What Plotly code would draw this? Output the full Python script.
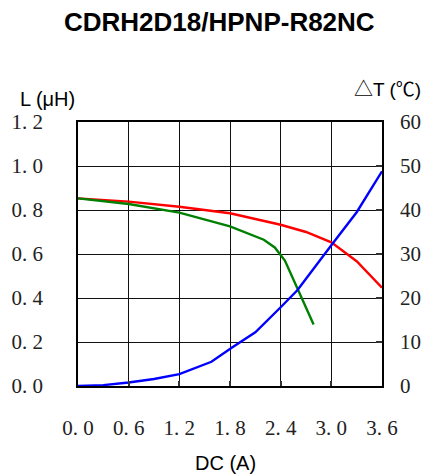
import plotly.graph_objects as go

# ---- tick labels ----
x_ticks = [0.0, 0.6, 1.2, 1.8, 2.4, 3.0, 3.6]
x_tick_labels = ["0. 0", "0. 6", "1. 2", "1. 8", "2. 4", "3. 0", "3. 6"]
l_ticks = [0.0, 0.2, 0.4, 0.6, 0.8, 1.0, 1.2]
l_tick_labels = ["0. 0", "0. 2", "0. 4", "0. 6", "0. 8", "1. 0", "1. 2"]
t_ticks = [0, 10, 20, 30, 40, 50, 60]
t_tick_labels = ["0", "10", "20", "30", "40", "50", "60"]

# ---- series ----
red_dc = [0.0, 0.6, 1.2, 1.8, 2.4, 2.7, 3.0, 3.3, 3.6]
red_l = [0.853, 0.838, 0.815, 0.785, 0.733, 0.700, 0.653, 0.567, 0.447]

green_dc = [0.0, 0.6, 1.2, 1.8, 2.2, 2.33, 2.45, 2.6, 2.79]
green_l = [0.853, 0.827, 0.788, 0.726, 0.665, 0.630, 0.570, 0.440, 0.280]

blue_dc = [0.0, 0.3, 0.6, 0.9, 1.2, 1.58, 1.82, 2.1, 2.4, 2.6, 3.0, 3.3, 3.6]
blue_t = [0.0, 0.2, 0.8, 1.6, 2.7, 5.5, 8.7, 12.2, 17.9, 21.8, 32.0, 39.5, 48.8]

title_text = "CDRH2D18/HPNP-R82NC"
left_title = "L (μH)"
right_title = "△T (℃)"
x_title = "DC (A)"

W, H = 433, 475
ML, MR, MT, MB = 76, 45, 122, 89
PW = W - ML - MR
PH = H - MT - MB

def px_x(px):
    return (px - ML) / PW

def px_y(py):
    return (H - MB - py) / PH

fig = go.Figure()
fig.add_trace(go.Scatter(x=red_dc, y=red_l, mode="lines",
                         line=dict(color="#ff0000", width=2.4), yaxis="y"))
fig.add_trace(go.Scatter(x=green_dc, y=green_l, mode="lines",
                         line=dict(color="#008000", width=2.4), yaxis="y"))
fig.add_trace(go.Scatter(x=blue_dc, y=blue_t, mode="lines",
                         line=dict(color="#0000ff", width=2.4), yaxis="y2"))

tick_font = dict(family="Liberation Serif", size=21, color="#222")

fig.update_layout(
    width=W, height=H,
    margin=dict(l=ML, r=MR, t=MT, b=MB, pad=0),
    paper_bgcolor="white", plot_bgcolor="white",
    showlegend=False,
    xaxis=dict(range=[0, 3.6], tickvals=x_ticks, ticktext=x_tick_labels,
               showgrid=True, gridcolor="#111", gridwidth=1,
               showline=True, linecolor="#000", linewidth=1.5, mirror=True,
               ticks="inside", ticklen=5, tickcolor="#333", tickwidth=2,
               zeroline=False, tickfont=tick_font, ticklabelstandoff=22,
               fixedrange=True),
    yaxis=dict(range=[0, 1.2], tickvals=l_ticks, ticktext=l_tick_labels,
               showgrid=True, gridcolor="#111", gridwidth=1,
               showline=True, linecolor="#000", linewidth=1.5, mirror=True,
               ticks="", zeroline=False, tickfont=tick_font,
               ticklabelstandoff=29, fixedrange=True),
    yaxis2=dict(range=[0, 60], tickvals=t_ticks, ticktext=t_tick_labels,
                overlaying="y", side="right", showgrid=False,
                ticks="inside", ticklen=6, tickcolor="#333", tickwidth=2,
                zeroline=False, tickfont=tick_font,
                ticklabelstandoff=17, fixedrange=True),
    annotations=[
        dict(text="<b>" + title_text + "</b>", xref="paper", yref="paper",
             x=px_x(221), y=px_y(22), xanchor="center", yanchor="middle",
             showarrow=False,
             font=dict(family="Liberation Sans", size=26, color="#000")),
        dict(text=left_title, xref="paper", yref="paper",
             x=px_x(14), y=px_y(99), xanchor="left", yanchor="middle",
             showarrow=False,
             font=dict(family="Liberation Sans", size=20, color="#000")),
        dict(text=right_title, xref="paper", yref="paper",
             x=px_x(430), y=px_y(89), xanchor="right", yanchor="middle",
             showarrow=False,
             font=dict(family="Liberation Sans, Noto Sans CJK SC", size=19, color="#000")),
        dict(text=x_title, xref="paper", yref="paper",
             x=px_x(227), y=px_y(463), xanchor="center", yanchor="middle",
             showarrow=False,
             font=dict(family="Liberation Sans", size=20, color="#000")),
    ],
)

fig.write_html("out.html")
